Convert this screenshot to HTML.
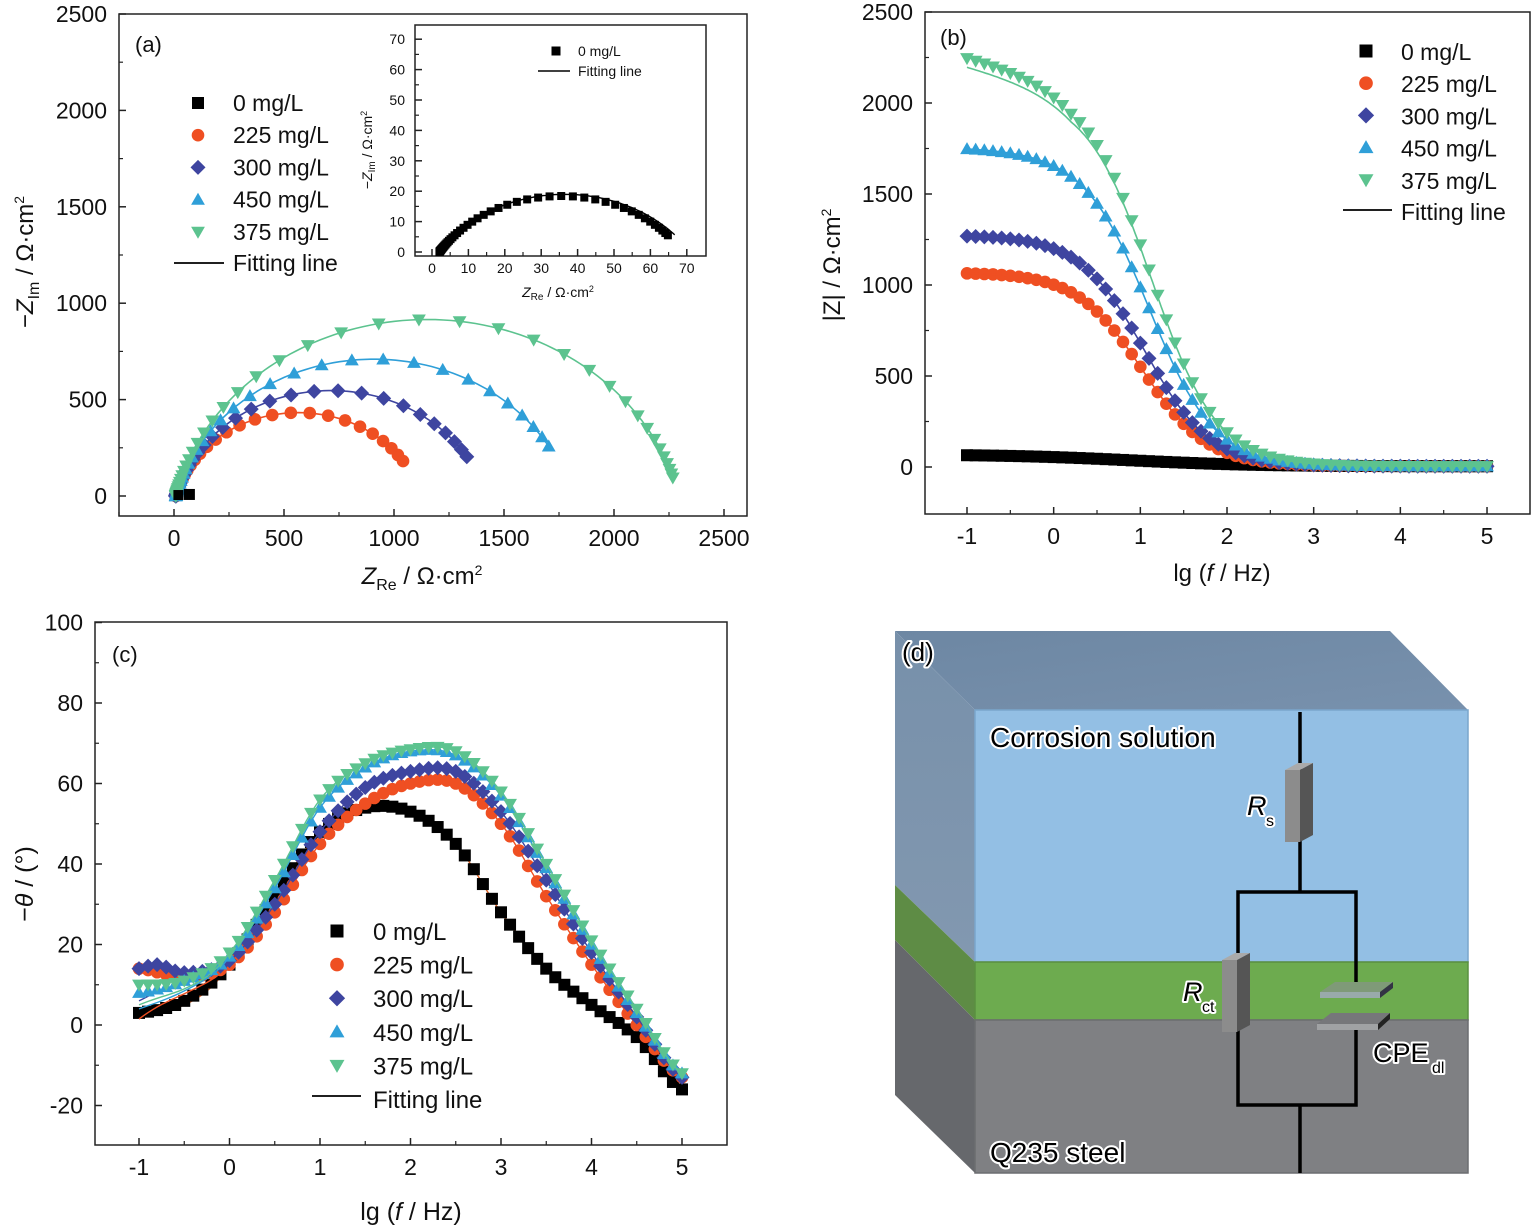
<!DOCTYPE html>
<html><head><meta charset="utf-8">
<style>
html,body{margin:0;padding:0;background:#fff;}
svg{display:block;font-family:"Liberation Sans",Arial,sans-serif;}
.out{paint-order:stroke;stroke:#fff;stroke-width:4px;stroke-linejoin:round;}
</style></head>
<body>
<svg id="s" width="1536" height="1230" viewBox="0 0 1536 1230" xmlns="http://www.w3.org/2000/svg">
<defs>
<linearGradient id="topg" x1="0" y1="0" x2="1" y2="1"><stop offset="0" stop-color="#6d87a3"/><stop offset="1" stop-color="#7891ad"/></linearGradient>
<linearGradient id="leftg" x1="0" y1="0" x2="0" y2="1"><stop offset="0" stop-color="#7790aa"/><stop offset="1" stop-color="#8298b0"/></linearGradient>
</defs>
<g>
<polygon points="895,631 1390,631 1468,710 975,710" fill="url(#topg)"/>
<polygon points="895,631 975,710 975,962 895,885" fill="url(#leftg)"/>
<polygon points="895,885 975,962 975,1020 895,940" fill="#5e8c45"/>
<polygon points="895,940 975,1020 975,1173 895,1095" fill="#66686c"/>
<rect x="975" y="710" width="493" height="252" fill="#93bfe4" stroke="#7aa6cc" stroke-width="1.5"/>
<rect x="975" y="962" width="493" height="58" fill="#6dab4f" stroke="#5a9040" stroke-width="1.5"/>
<rect x="975" y="1020" width="493" height="153" fill="#7f8083" stroke="#6c6d70" stroke-width="1.5"/>
<g stroke="#000" stroke-width="3.5" fill="none">
<polyline points="1300,712 1300,892"/>
<polyline points="1238,955 1238,892 1356,892 1356,993"/>
<polyline points="1238,1030 1238,1105 1356,1105 1356,1030"/>
<polyline points="1300,1105 1300,1173"/>
</g>
<polygon points="1285,770 1298,763 1313,763 1300,770" fill="#aaa"/>
<polygon points="1300,770 1313,763 1313,835 1300,842" fill="#555"/>
<rect x="1285" y="770" width="15" height="72" fill="#8c8c8c"/>
<polygon points="1222,960 1235,953 1250,953 1237,960" fill="#aaa"/>
<polygon points="1237,960 1250,953 1250,1025 1237,1032" fill="#555"/>
<rect x="1222" y="960" width="15" height="72" fill="#8c8c8c"/>
<polygon points="1320,992 1335,982 1393,982 1380,992" fill="#7f9a78"/>
<rect x="1320" y="992" width="60" height="6" fill="#9aa"/>
<polygon points="1380,992 1393,982 1393,988 1380,998" fill="#334"/>
<polygon points="1317,1024 1331,1013 1390,1013 1378,1024" fill="#76777a"/>
<rect x="1317" y="1024" width="61" height="6" fill="#a0a2a4"/>
<polygon points="1378,1024 1390,1013 1390,1019 1378,1030" fill="#222"/>
<text x="902" y="661" font-size="26" class="out">(d)</text>
<text x="990" y="747" font-size="28" class="out">Corrosion solution</text>
<text x="1247" y="815" font-size="27" font-style="italic" class="out">R</text>
<text x="1266" y="826" font-size="16" class="out">s</text>
<text x="1183" y="1001" font-size="27" font-style="italic" class="out">R</text>
<text x="1202" y="1012" font-size="16" class="out">ct</text>
<text x="1373" y="1062" font-size="27" class="out">CPE</text>
<text x="1432" y="1073" font-size="16" class="out">dl</text>
<text x="990" y="1162" font-size="28" class="out">Q235 steel</text>
</g>
<g id="plots"></g>
</svg>
<script>
var NS="http://www.w3.org/2000/svg",G=document.getElementById("plots");
function el(t,a,p){var e=document.createElementNS(NS,t);for(var k in a)e.setAttribute(k,a[k]);(p||G).appendChild(e);return e;}
function txt(x,y,s,sz,anc,p,extra){var e=el("text",Object.assign({x:x,y:y,"font-size":sz,"text-anchor":anc||"start",fill:"#111"},extra||{}),p);e.innerHTML=s;return e;}
var C={k:"#000",r:"#ef4f22",b:"#3e45a0",c:"#2f9fd8",g:"#5cc38f"};
function mk(type,x,y,s,col){
 var h=s/2;
 if(type=="sq")el("rect",{x:x-h,y:y-h,width:s,height:s,fill:col});
 else if(type=="ci")el("circle",{cx:x,cy:y,r:h*1.05,fill:col});
 else if(type=="di")el("polygon",{points:[x,y-h*1.25,x+h*1.25,y,x,y+h*1.25,x-h*1.25,y].join(","),fill:col});
 else if(type=="tu")el("polygon",{points:[x,y-h*1.15,x+h*1.15,y+h*0.85,x-h*1.15,y+h*0.85].join(","),fill:col});
 else el("polygon",{points:[x,y+h*1.15,x+h*1.15,y-h*0.85,x-h*1.15,y-h*0.85].join(","),fill:col});
}
function axes(x0,y0,x1,y1,xt,yt,xmap,ymap,xmin,ymin,fs,lab){
 el("rect",{x:x0,y:y0,width:x1-x0,height:y1-y0,fill:"none",stroke:"#222","stroke-width":1.5});
 xt.forEach(function(v,i){var X=xmap(v);el("line",{x1:X,y1:y1,x2:X,y2:y1-7,stroke:"#222","stroke-width":1.5});if(lab!==false)txt(X,y1+30,String(v),fs,"middle");});
 xmin.forEach(function(v){var X=xmap(v);el("line",{x1:X,y1:y1,x2:X,y2:y1-4,stroke:"#222","stroke-width":1.2});});
 yt.forEach(function(v){var Y=ymap(v);el("line",{x1:x0,y1:Y,x2:x0+7,y2:Y,stroke:"#222","stroke-width":1.5});if(lab!==false)txt(x0-12,Y+8,String(v),fs,"end");});
 ymin.forEach(function(v){var Y=ymap(v);el("line",{x1:x0,y1:Y,x2:x0+4,y2:Y,stroke:"#222","stroke-width":1.2});});
}
function line(pts,col,w){el("polyline",{points:pts.map(function(p){return p[0].toFixed(1)+","+p[1].toFixed(1)}).join(" "),fill:"none",stroke:col,"stroke-width":w||1.6});}
function cpe(Rs,R,n,lgfc,lgf){var x=Math.pow(10,lgf-lgfc),xn=Math.pow(x,n),a=1+xn*Math.cos(n*Math.PI/2),b=xn*Math.sin(n*Math.PI/2),d=a*a+b*b;return [Rs+R*a/d,R*b/d];}
// ===== Panel a =====
var ax=function(v){return 174+v*0.22},ay=function(v){return 496-v*0.1928};
axes(119,14,747,516,[0,500,1000,1500,2000,2500],[0,500,1000,1500,2000,2500],ax,ay,[-250,250,750,1250,1750,2250],[250,750,1250,1750,2250],23);
var NQ=[["r","ci",8,1115,0.84,-0.14],["b","di",8,1410,0.84,-0.07],["c","tu",8,1800,0.85,-0.07],["g","td",8,2285,0.86,0.58]];
NQ.forEach(function(s){var pts=[],m=[];for(var i=0;i<=60;i++){var lf=-1+i*0.1,z=cpe(s[2],s[3],s[4],s[5],lf);m.push([ax(z[0]),ay(z[1])]);}
 for(var i=0;i<=300;i++){var lf=-1+i*0.02,z=cpe(s[2],s[3],s[4],s[5],lf);pts.push([ax(z[0]),ay(z[1])]);}
 m.forEach(function(p){mk(s[1],p[0],p[1],12,C[s[0]])});line(pts,C[s[0]]);});
mk("sq",ax(70),ay(8),11,"#000");mk("sq",ax(20),ay(5),10,"#000");
txt(135,52,"(a)",22);
var la=[["sq","k","0 mg/L"],["ci","r","225 mg/L"],["di","b","300 mg/L"],["tu","c","450 mg/L"],["td","g","375 mg/L"]];
la.forEach(function(l,i){var y=103+i*32.2;mk(l[0],198,y,12,C[l[1]]);txt(233,y+8,l[2],23);});
el("line",{x1:174,y1:263,x2:224,y2:263,stroke:"#000","stroke-width":1.8});txt(233,271,"Fitting line",23);
var ix=function(v){return 432+v*3.64},iy=function(v){return 252-v*3.04};
el("rect",{x:415,y:25,width:291,height:231,fill:"#fff"});
axes(415,25,706,256,[0,10,20,30,40,50,60,70],[0,10,20,30,40,50,60,70],ix,iy,[5,15,25,35,45,55,65],[5,15,25,35,45,55,65],14,false);
[0,10,20,30,40,50,60,70].forEach(function(v){txt(ix(v),273,String(v),14,"middle");txt(405,iy(v)+5,String(v),14,"end");});
(function(){var m=[],p=[];for(var i=0;i<=60;i++){var z=cpe(2,67,0.64,0.5,-1+i*0.1);m.push([ix(z[0]),iy(z[1])]);}
for(var i=0;i<=300;i++){var z=cpe(2,69,0.64,0.5,-1+i*0.02);p.push([ix(z[0]),iy(z[1])]);}
line(p,"#000",1.4);m.forEach(function(q){mk("sq",q[0],q[1],8,"#000")});})();
mk("sq",556,51,9,"#000");txt(578,56,"0 mg/L",14);
el("line",{x1:538,y1:71,x2:570,y2:71,stroke:"#000","stroke-width":1.4});txt(578,76,"Fitting line",14);
txt(0,0,'<tspan font-style="italic">Z</tspan><tspan font-size="16" dy="6">Re</tspan><tspan dy="-6"> / Ω·cm</tspan><tspan font-size="14" dy="-9">2</tspan>',24,"middle").setAttribute("transform","translate(422,584)");
txt(0,0,'<tspan font-style="italic">Z</tspan><tspan font-size="10" dy="3">Re</tspan><tspan dy="-3"> / Ω·cm</tspan><tspan font-size="9" dy="-5">2</tspan>',14,"middle").setAttribute("transform","translate(558,297)");
txt(0,0,'−<tspan font-style="italic">Z</tspan><tspan font-size="16" dy="6">Im</tspan><tspan dy="-6"> / Ω·cm</tspan><tspan font-size="14" dy="-9">2</tspan>',24,"middle").setAttribute("transform","translate(33,262) rotate(-90)");
txt(0,0,'−<tspan font-style="italic">Z</tspan><tspan font-size="10" dy="3">Im</tspan><tspan dy="-3"> / Ω·cm</tspan><tspan font-size="9" dy="-5">2</tspan>',14,"middle").setAttribute("transform","translate(372,150) rotate(-90)");
// ===== Panel b =====
var bx=function(v){return 967+(v+1)*86.67},by=function(v){return 467-v*0.182};
axes(925,12,1530,514,[-1,0,1,2,3,4,5],[0,500,1000,1500,2000,2500],bx,by,[-0.5,0.5,1.5,2.5,3.5,4.5],[250,750,1250,1750,2250],23);
var BZ=[["k","sq",65,0.6,0.9,0,1],["r","ci",1065,1.15,1.02,0,0],["b","di",1270,1.15,1.05,0,0],["c","tu",1750,1.15,1.1,10,0],["g","td",2250,1.15,1.12,120,0]];
function bz(s,lf){var R=s[2]-s[5]*Math.min(lf+1,1.2);return 4+R/(1+Math.pow(10,s[3]*(lf-s[4])));}
BZ.forEach(function(s){var m=[],p=[];for(var i=0;i<=60;i++){var lf=-1+i*0.1;m.push([bx(lf),by(bz(s,lf))]);}
 for(var i=0;i<=300;i++){var lf=-1+i*0.02;var v=bz(s,lf);if(s[0]=="g")v-=50/(1+Math.pow(10,1.5*(lf-0.8)));p.push([bx(lf),by(v)]);}
 m.forEach(function(q){mk(s[1],q[0],q[1],12,C[s[0]])});line(p,s[0]=="k"?"#000":C[s[0]]);});
txt(940,45,"(b)",22);
la.forEach(function(l,i){var y=51+i*32.2;mk(l[0],1366,y,13,C[l[1]]);txt(1401,y+9,l[2],23);});
el("line",{x1:1343,y1:210,x2:1392,y2:210,stroke:"#000","stroke-width":1.8});txt(1401,220,"Fitting line",23);
txt(1222,581,'lg (<tspan font-style="italic">f</tspan> / Hz)',24,"middle");
txt(0,0,'|Z| / Ω·cm<tspan font-size="14" dy="-9">2</tspan>',24,"middle").setAttribute("transform","translate(840,265) rotate(-90)");
// ===== Panel c =====
var cx=function(v){return 139+(v+1)*90.5},cy=function(v){return 1025-v*4.025};
axes(95,622,727,1145,[-1,0,1,2,3,4,5],[-20,0,20,40,60,80,100],cx,cy,[-0.5,0.5,1.5,2.5,3.5,4.5],[-10,10,30,50,70,90],23);
var PH={k:[[-1,3],[-0.5,6],[0,15],[0.5,32],[1,48],[1.5,54],[2,53],[2.5,45],[3,28],[3.5,14],[4,5],[4.5,-3],[5,-16]],
r:[[-1,14],[-0.5,12],[0,15],[0.5,28],[1,45],[1.5,55],[2,60],[2.5,60],[3,50],[3.5,32],[4,15],[4.5,0],[5,-13]],
b:[[-1,14],[-0.8,15],[-0.5,13],[0,16],[0.5,30],[1,48],[1.5,59],[2,63],[2.5,63],[3,53],[3.5,36],[4,18],[4.5,2],[5,-13]],
c:[[-1,8],[-0.5,11],[0,17],[0.5,34],[1,54],[1.5,64],[2,68],[2.5,67],[3,57],[3.5,39],[4,20],[4.5,3],[5,-12]],
g:[[-1,10],[-0.5,11],[0,18],[0.5,36],[1,56],[1.5,65],[2,68.5],[2.5,68],[3,58],[3.5,40],[4,21],[4.5,4],[5,-12]]};
var FIT0={k:2,r:1.5,b:6,c:4,g:5};
function interp(a,x){for(var i=0;i<a.length-1;i++){if(x<=a[i+1][0]+1e-9){var p0=a[Math.max(i-1,0)],p1=a[i],p2=a[i+1],p3=a[Math.min(i+2,a.length-1)],t=(x-p1[0])/(p2[0]-p1[0]);
 var t2=t*t,t3=t2*t;return 0.5*((2*p1[1])+(-p0[1]+p2[1])*t+(2*p0[1]-5*p1[1]+4*p2[1]-p3[1])*t2+(-p0[1]+3*p1[1]-3*p2[1]+p3[1])*t3);}}return a[a.length-1][1];}
var ord=[["k","sq"],["r","ci"],["b","di"],["c","tu"],["g","td"]];
ord.forEach(function(o){var a=PH[o[0]],p=[];for(var i=0;i<=120;i++){var lf=-1+i*0.05;var v=interp(a,lf);
 if(lf<0){var w=-lf;var f0=FIT0[o[0]];var base=interp(a,0);v=(1-w)*v+w*(f0+(base-f0)*(1-w)*0.3);}
 p.push([cx(lf),cy(v)]);}
 line(p,o[0]=="k"?"#e06020":C[o[0]],1.4);
 for(var i=0;i<=60;i++){var lf=-1+i*0.1;mk(o[1],cx(lf),cy(interp(a,lf)),12,C[o[0]]);}});
txt(112,662,"(c)",22);
la.forEach(function(l,i){var y=931+i*33.6;mk(l[0],337,y,13,C[l[1]]);txt(373,y+9,l[2],24);});
el("line",{x1:312,y1:1096,x2:361,y2:1096,stroke:"#000","stroke-width":1.8});txt(373,1108,"Fitting line",24);
txt(411,1220,'lg (<tspan font-style="italic">f</tspan> / Hz)',25,"middle");
txt(0,0,'−<tspan font-style="italic">θ</tspan> / (°)',25,"middle").setAttribute("transform","translate(33,884) rotate(-90)");
</script>
</body></html>
